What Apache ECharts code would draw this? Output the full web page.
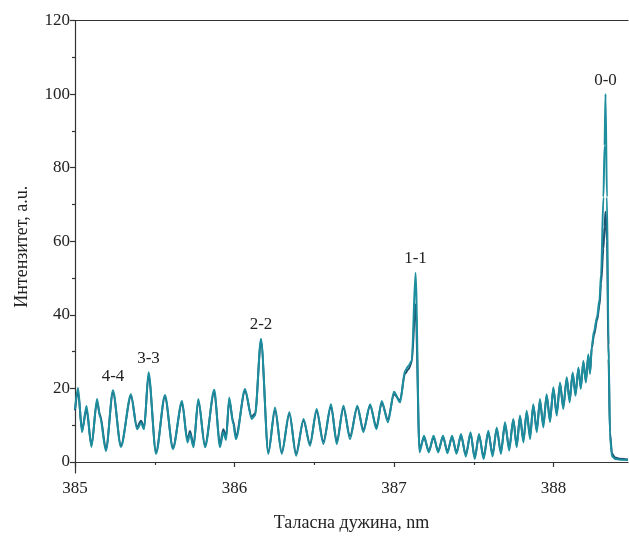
<!DOCTYPE html>
<html><head><meta charset="utf-8">
<script src="https://cdn.jsdelivr.net/npm/echarts@6/dist/echarts.min.js"></script>
<style>html,body{margin:0;padding:0;background:#fff}#c{width:629px;height:537px}</style>
</head><body><div id="c"></div>
<script>
// wavelength grid (nm)
const wavelength = [
385.000,385.019,385.044,385.072,385.103,385.138,385.157,385.194,385.238,385.288,
385.351,385.389,385.414,385.433,385.461,385.508,385.564,385.614,385.671,385.705,
385.721,385.743,385.773,385.815,385.873,385.909,385.930,385.947,385.967,385.992,
386.009,386.066,386.108,386.129,386.166,386.212,386.254,386.296,386.344,386.386,
386.433,386.473,386.515,386.557,386.605,386.641,386.683,386.724,386.770,386.808,
386.850,386.890,386.923,386.962,387.000,387.038,387.069,387.090,387.111,387.135,
387.160,387.188,387.218,387.248,387.277,387.307,387.335,387.364,387.392,387.420,
387.450,387.480,387.506,387.533,387.562,387.591,387.618,387.644,387.670,387.696,
387.722,387.748,387.769,387.790,387.811,387.832,387.853,387.873,387.895,387.915,
387.936,387.957,387.978,387.999,388.020,388.041,388.061,388.083,388.101,388.120,
388.138,388.156,388.171,388.187,388.203,388.218,388.229,388.240,388.254,388.273,
388.288,388.298,388.313,388.320,388.326,388.335,388.345,388.354,388.367,388.386,
388.417,388.467];
// teal spectrum
const intensityTeal = [
14.4,20.1,8.1,15.2,4.1,17.1,12.2,3.0,19.5,4.1,
18.4,8.9,10.6,8.9,24.4,2.2,18.2,3.5,16.6,5.3,
7.6,4.0,17.1,4.0,19.6,4.0,8.1,6.0,17.5,10.3,
6.2,19.8,11.7,12.6,33.5,2.2,14.8,2.2,13.5,1.7,
11.7,4.4,14.4,4.9,15.7,4.9,15.3,6.2,15.3,8.1,
15.7,8.9,16.6,10.8,19.1,16.2,24.8,26.1,27.5,51.4,
2.6,7.1,2.6,7.1,2.6,7.1,2.4,7.1,2.2,7.6,
1.5,8.1,0.8,7.6,0.8,8.5,1.5,9.4,2.2,10.8,
3.1,11.7,4.0,12.6,5.3,13.9,6.2,15.7,8.1,17.1,
9.4,18.4,10.8,20.3,12.6,21.6,14.4,23.0,16.2,24.3,
18.0,25.7,19.8,27.5,21.6,29.3,23.9,31.5,35.5,39.5,
44.0,51.0,72.0,86.0,100.0,72.0,32.0,7.0,1.5,0.8,
0.6,0.5];
// dark blue spectrum
const intensityDark = [
14.0,19.0,8.8,14.2,4.6,16.4,12.8,3.6,18.8,4.5,
17.8,9.5,11.2,9.3,23.5,2.8,17.6,4.0,16.0,6.0,
8.4,4.5,16.6,4.6,19.0,4.8,8.9,6.8,16.8,11.0,
7.0,19.2,12.3,13.2,32.8,2.8,14.0,2.7,13.0,2.3,
11.2,5.0,13.8,5.6,15.0,5.7,14.6,7.0,14.8,8.8,
15.2,9.6,16.0,11.6,18.4,16.8,24.0,25.2,27.0,42.8,
3.4,6.6,3.0,6.6,3.0,6.8,2.9,6.7,2.7,7.1,
2.0,7.6,1.3,7.2,1.4,8.0,2.1,8.9,2.8,10.2,
3.8,11.4,4.6,12.2,6.0,13.4,7.0,15.2,8.8,16.5,
10.2,17.9,11.5,19.8,13.3,21.2,15.0,22.5,16.9,23.9,
18.7,25.3,20.4,27.0,22.2,28.8,24.4,31.0,34.5,38.5,
42.5,48.5,58.0,64.0,68.0,60.0,28.0,8.0,2.2,1.2,
0.9,0.7];
const xMajorTicks = [385,386,387,388];
const xMinorTicks = [385.5,386.5,387.5];
const yMajorTicks = [0,20,40,60,80,100,120];
const yMinorTicks = [10,30,50,70,90,110];
const bandNames = ['4-4','3-3','2-2','1-1','0-0'];
const bandHeads = [385.238,385.461,386.166,387.135,388.326];

const FONT = '"Liberation Serif","Times New Roman",serif';
const AX = '#333';
const tealData = wavelength.map((w,i)=>[w,intensityTeal[i]]);
const darkData = wavelength.map((w,i)=>[w,intensityDark[i]]);
const bandMarks = bandNames.map((n,k)=>{
  const i = wavelength.indexOf(bandHeads[k]);
  return {name:n, coord:[wavelength[i], intensityTeal[i]]};
});

const chart = echarts.init(document.getElementById('c'), null, {renderer:'canvas'});
chart.setOption({
  animation:false,
  backgroundColor:'#fff',
  grid:{left:75,right:1,top:20.5,bottom:63,containLabel:false},
  xAxis:[
    {type:'value',min:385,max:388.467,position:'bottom',
     name:'Таласна дужина, nm',nameLocation:'middle',nameGap:41,
     nameTextStyle:{fontFamily:FONT,fontSize:18,color:'#222'},
     axisLine:{show:true,lineStyle:{color:AX,width:1.2}},
     axisTick:{show:true,customValues:xMajorTicks,length:5,lineStyle:{color:AX,width:1.2}},
     axisLabel:{customValues:xMajorTicks,fontFamily:FONT,fontSize:17,color:'#222',margin:7},
     splitLine:{show:false}},
    {type:'value',min:385,max:388.467,position:'bottom',
     axisLine:{show:false},
     axisTick:{show:true,customValues:xMinorTicks,length:3,lineStyle:{color:AX,width:1.2}},
     axisLabel:{show:false},splitLine:{show:false}},
    {type:'value',min:385,max:388.467,position:'top',
     axisLine:{show:true,lineStyle:{color:AX,width:1.2}},
     axisTick:{show:false},axisLabel:{show:false},splitLine:{show:false}}
  ],
  yAxis:[
    {type:'value',min:-3,max:120,position:'left',
     name:'Интензитет, a.u.',nameLocation:'middle',nameGap:44,
     nameTextStyle:{fontFamily:FONT,fontSize:18,color:'#222'},
     axisLine:{show:true,lineStyle:{color:AX,width:1.2}},
     axisTick:{show:true,customValues:yMajorTicks,length:5,lineStyle:{color:AX,width:1.2}},
     axisLabel:{customValues:yMajorTicks,fontFamily:FONT,fontSize:17,color:'#222',margin:5},
     splitLine:{show:false}},
    {type:'value',min:-3,max:120,position:'left',
     axisLine:{show:false},
     axisTick:{show:true,customValues:yMinorTicks,length:3,lineStyle:{color:AX,width:1.2}},
     axisLabel:{show:false},splitLine:{show:false}}
  ],
  series:[
    {type:'line',name:'dark',data:darkData,xAxisIndex:0,yAxisIndex:0,
     showSymbol:false,smooth:0.3,smoothMonotone:'x',lineStyle:{color:'#1e5273',width:2},z:2},
    {type:'line',name:'teal',data:tealData,xAxisIndex:0,yAxisIndex:0,
     showSymbol:false,smooth:0.3,smoothMonotone:'x',lineStyle:{color:'#1d8e9e',width:2},z:3,
     markPoint:{symbol:'circle',symbolSize:1,itemStyle:{color:'rgba(0,0,0,0)'},
       label:{show:true,position:'top',distance:5,formatter:p=>p.name,
              fontFamily:FONT,fontSize:17,color:'#222'},
       data:bandMarks}}
  ]
});
</script></body></html>
